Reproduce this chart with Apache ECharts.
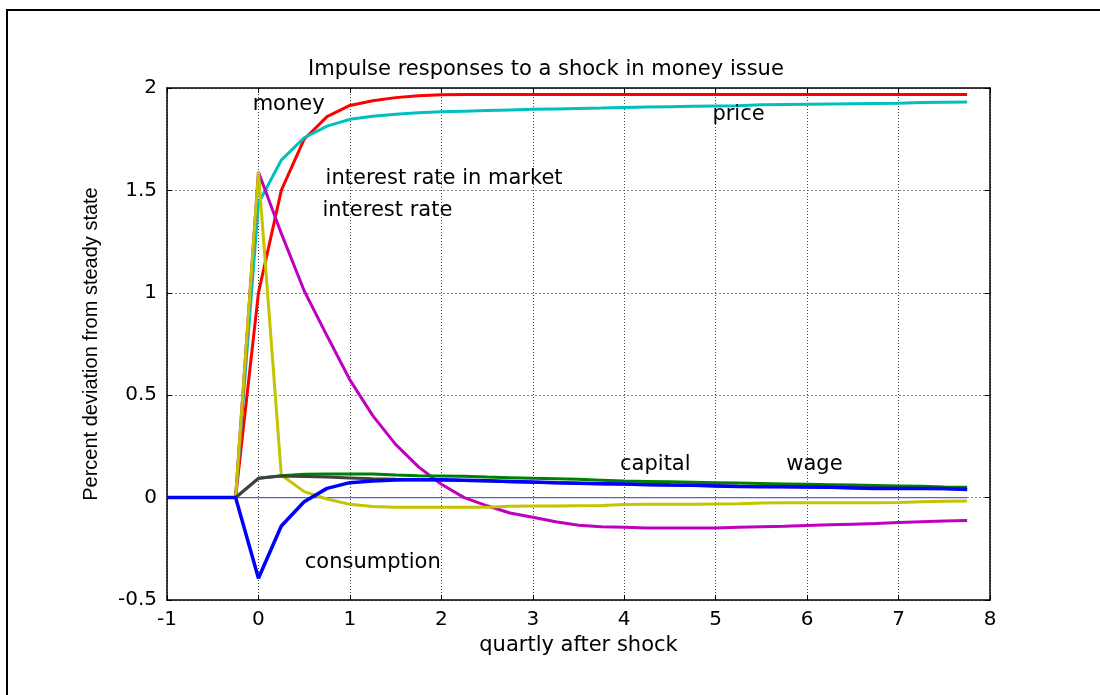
<!DOCTYPE html>
<html>
<head>
<meta charset="utf-8">
<script src="https://cdn.jsdelivr.net/npm/echarts@6/dist/echarts.min.js"></script>
<style>
html,body{margin:0;padding:0;background:#fff;}
#chart{width:1100px;height:695px;}
</style>
</head>
<body>
<div id="chart"></div>
<script>
// quarters after shock
const quarters = [-1,-0.75,-0.5,-0.25,0,0.25,0.5,0.75,1,1.25,1.5,1.75,2,2.25,2.5,2.75,3,3.25,3.5,3.75,4,4.25,4.5,4.75,5,5.25,5.5,5.75,6,6.25,6.5,6.75,7,7.25,7.5,7.75];

const money = [0,0,0,0,1.0,1.5,1.75,1.86,1.915,1.938,1.953,1.962,1.967,
  1.968,1.968,1.968,1.968,1.968,1.968,1.968,1.968,1.968,1.968,1.968,1.968,1.968,1.968,1.968,1.968,1.968,1.968,1.968,1.968,1.968,1.968,1.968];
const price = [0,0,0,0,1.437,1.648,1.757,1.814,1.847,1.862,1.872,1.879,1.884,
  1.887,1.89,1.893,1.896,1.898,1.90,1.902,1.905,1.907,1.909,1.911,1.912,1.913,1.918,1.92,1.921,1.922,1.923,1.924,1.925,1.929,1.931,1.932];
const interestRate = [0,0,0,0,1.59,1.29,1.01,0.79,0.575,0.40,0.26,0.15,0.065,
  0.0,-0.04,-0.075,-0.096,-0.118,-0.135,-0.142,-0.145,-0.148,-0.149,-0.149,-0.148,-0.145,-0.142,-0.14,-0.136,-0.133,-0.13,-0.127,-0.122,-0.118,-0.114,-0.112];
const interestMarket = [0,0,0,0,1.59,0.11,0.029,-0.007,-0.033,-0.044,-0.047,-0.047,-0.047,
  -0.047,-0.047,-0.042,-0.041,-0.041,-0.04,-0.039,-0.034,-0.032,-0.032,-0.032,-0.031,-0.03,-0.026,-0.025,-0.025,-0.025,-0.025,-0.025,-0.024,-0.02,-0.018,-0.017];
const capital = [0,0,0,0,0.094,0.107,0.114,0.115,0.115,0.115,0.11,0.107,0.106,
  0.104,0.1,0.097,0.094,0.092,0.089,0.085,0.081,0.079,0.077,0.075,0.073,0.071,0.069,0.067,0.065,0.063,0.061,0.059,0.057,0.055,0.052,0.05];
const wage = [0,0,0,0,0.094,0.105,0.103,0.1,0.096,0.092,0.089,0.087,0.086,
  0.084,0.081,0.078,0.075,0.072,0.07,0.068,0.066,0.064,0.062,0.06,0.058,0.056,0.054,0.053,0.052,0.05,0.049,0.048,0.046,0.045,0.043,0.041];
const consumption = [0,0,0,0,-0.394,-0.139,-0.02,0.045,0.073,0.081,0.086,0.087,0.087,
  0.085,0.082,0.079,0.076,0.072,0.07,0.068,0.066,0.063,0.061,0.06,0.057,0.054,0.053,0.053,0.052,0.05,0.047,0.045,0.045,0.045,0.044,0.04];
const steadyState = [0,0,0,0,0,0,0,0,0,0,0,0,0,0,0,0,0,0,0,0,0,0,0,0,0,0,0,0,0,0,0,0,0,0,0,0];

// annotation labels (data coordinates of label centres)
const annotationNames = ['money','price','interest rate in market','interest rate','capital','wage','consumption'];
const annotationX = [0.33, 5.25, 2.03, 1.41, 4.34, 6.08, 1.25];
const annotationY = [1.917, 1.868, 1.56, 1.40, 0.159, 0.159, -0.319];

const xMin = -1, xMax = 8, xStep = 1;
const yMin = -0.5, yMax = 2, yStep = 0.5;

const FONT = 'DejaVu Sans';
const chart = echarts.init(document.getElementById('chart'), null, {renderer: 'canvas'});

function pairs(ys) { return quarters.map((q, i) => [q, ys[i]]); }
function lineSeries(name, ys, color, width) {
  return {
    name: name, type: 'line', data: pairs(ys), xAxisIndex: 0, yAxisIndex: 0,
    showSymbol: false, symbol: 'none', animation: false, silent: true,
    lineStyle: {color: color, width: width || 3}, itemStyle: {color: color}
  };
}

const hiddenAxisCommon = {
  axisLabel: {show: false},
  axisTick: {show: true, inside: true, length: 5, lineStyle: {color: '#000', width: 1}},
  axisLine: {show: true, onZero: false, lineStyle: {color: '#000', width: 1.5}},
  splitLine: {show: false}
};

const option = {
  backgroundColor: '#fff',
  animation: false,
  title: {
    text: 'Impulse responses to a shock in money issue',
    left: 303, top: 54,
    textStyle: {fontFamily: FONT, fontSize: 21, fontWeight: 'normal', color: '#000'}
  },
  grid: {left: 167, right: 110, top: 88, bottom: 95, containLabel: false},
  xAxis: [{
    type: 'value', min: xMin, max: xMax, interval: xStep, position: 'bottom',
    name: 'quartly after shock', nameLocation: 'middle', nameGap: 33,
    nameTextStyle: {fontFamily: FONT, fontSize: 21, color: '#000'},
    axisLabel: {fontFamily: FONT, fontSize: 20, color: '#000', margin: 10},
    axisTick: {show: true, inside: true, length: 5, lineStyle: {color: '#000', width: 1}},
    axisLine: {show: true, onZero: false, lineStyle: {color: '#000', width: 1.5}},
    splitLine: {show: true, lineStyle: {color: '#444', width: 1, type: [1, 2]}}
  }, Object.assign({type: 'value', min: xMin, max: xMax, interval: xStep, position: 'top'}, hiddenAxisCommon)],
  yAxis: [{
    type: 'value', min: yMin, max: yMax, interval: yStep, position: 'left',
    name: 'Percent deviation from steady state', nameLocation: 'middle', nameGap: 66, nameRotate: 90,
    nameTextStyle: {fontFamily: 'Liberation Sans', fontSize: 20, color: '#000'},
    axisLabel: {fontFamily: FONT, fontSize: 20, color: '#000', margin: 10},
    axisTick: {show: true, inside: true, length: 5, lineStyle: {color: '#000', width: 1}},
    axisLine: {show: true, onZero: false, lineStyle: {color: '#000', width: 1.5}},
    splitLine: {show: true, lineStyle: {color: '#888', width: 1, type: [2, 2]}}
  }, Object.assign({type: 'value', min: yMin, max: yMax, interval: yStep, position: 'right'}, hiddenAxisCommon)],
  graphic: [{
    type: 'rect', shape: {x: 7, y: 10, width: 1300, height: 900},
    style: {fill: null, stroke: '#000', lineWidth: 2}, silent: true, z: 100
  }],
  series: [
    Object.assign(lineSeries('steady state', steadyState, '#5a5ae6', 1.2), {z: 1}),
    lineSeries('money', money, '#ff0000'),
    lineSeries('price', price, '#00bfbf'),
    lineSeries('interest rate', interestRate, '#bf00bf'),
    lineSeries('interest rate in market', interestMarket, '#c4c400'),
    lineSeries('capital', capital, '#008000'),
    lineSeries('wage', wage, '#404040'),
    lineSeries('consumption', consumption, '#0000ff', 3.5),
    {
      type: 'scatter', silent: true, animation: false, symbolSize: 0, z: 20,
      itemStyle: {opacity: 1, color: '#000'},
      data: annotationNames.map((n, i) => ({name: n, value: [annotationX[i], annotationY[i]]})),
      label: {show: true, position: 'inside', formatter: p => p.name,
        fontFamily: FONT, fontSize: 21, color: '#000', opacity: 1}
    }
  ]
};
chart.setOption(option);
</script>
</body>
</html>
